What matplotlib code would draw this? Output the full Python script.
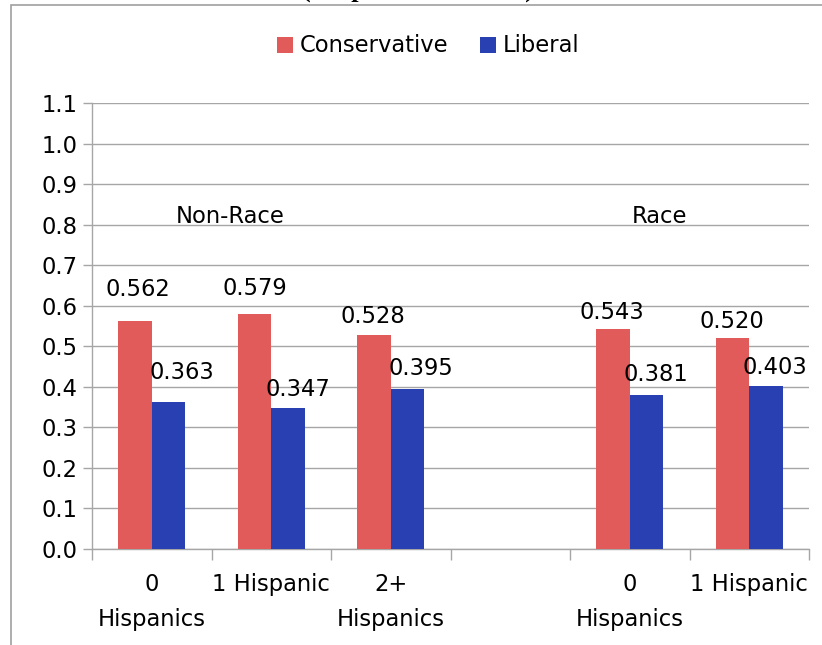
import matplotlib
matplotlib.use("Agg")
import matplotlib.pyplot as plt
from matplotlib.patches import Rectangle
import numpy as np

plt.rcParams['font.family'] = ['DejaVu Sans']

categories = ["0\nHispanics", "1 Hispanic", "2+\nHispanics", "", "0\nHispanics", "1 Hispanic"]
conservative = [0.562, 0.579, 0.528, np.nan, 0.543, 0.520]
liberal = [0.363, 0.347, 0.395, np.nan, 0.381, 0.403]
group_labels = ["Non-Race", "Race"]
yticks = [0.0, 0.1, 0.2, 0.3, 0.4, 0.5, 0.6, 0.7, 0.8, 0.9, 1.0, 1.1]

RED = "#E05B59"
BLUE = "#2940B2"
GRID = "#A6A6A6"
FS = 16.3

# label nudges (pixels) so the value labels sit clear of the bars
cons_off = [(3, 32), (0, 26), (-1, 18), (0, 0), (-1, 16), (-1, 17)]
lib_off = [(13, 29), (10, 19), (13, 20), (0, 0), (9, 20), (9, 18)]

W, H = 822, 645
fig = plt.figure(figsize=(W / 100, H / 100), dpi=100)
ax = fig.add_axes([92 / W, 1 - 549 / H, (809 - 92) / W, (549 - 103) / H])

x = np.arange(len(categories))
bw = 0.28
ax.bar(x - bw / 2, conservative, bw, color=RED, label="Conservative", zorder=3)
ax.bar(x + bw / 2, liberal, bw, color=BLUE, label="Liberal", zorder=3)

for i in range(len(categories)):
    if not np.isnan(conservative[i]):
        ax.annotate(f"{conservative[i]:.3f}", (x[i] - bw / 2, conservative[i]),
                    xytext=cons_off[i], textcoords="offset pixels",
                    ha="center", va="center", fontsize=FS, color="black")
    if not np.isnan(liberal[i]):
        ax.annotate(f"{liberal[i]:.3f}", (x[i] + bw / 2, liberal[i]),
                    xytext=lib_off[i], textcoords="offset pixels",
                    ha="center", va="center", fontsize=FS, color="black")

ax.text(0.66, 0.82, group_labels[0], ha="center", va="center", fontsize=FS)
ax.text(4.25, 0.82, group_labels[1], ha="center", va="center", fontsize=FS)

ax.set_xlim(-0.5, len(categories) - 0.5)
ax.set_ylim(0, 1.1)
ax.set_yticks(yticks)
ax.set_yticklabels([f"{v:.1f}" for v in yticks], fontsize=FS)
ax.yaxis.grid(True, color=GRID, lw=1, zorder=0)
ax.tick_params(axis="y", length=6.5, color=GRID, width=1, pad=4)

ax.set_xticks(x)
ax.set_xticklabels(categories, fontsize=FS, linespacing=1.7, va="top")
ax.set_xticks(np.arange(len(categories) + 1) - 0.5, minor=True)
ax.tick_params(axis="x", which="major", length=0, pad=17)
ax.tick_params(axis="x", which="minor", length=8, color=GRID, width=1)

for s in ["top", "right"]:
    ax.spines[s].set_visible(False)
for s in ["left", "bottom"]:
    ax.spines[s].set_color(GRID)
    ax.spines[s].set_linewidth(1)

fig.legend(loc="center", bbox_to_anchor=(428 / W, 1 - 46 / H), ncol=2,
           frameon=False, fontsize=FS, handlelength=0.7, handleheight=0.7,
           handletextpad=0.3, columnspacing=1.4)

# outer chart frame
fig.patches.append(Rectangle((10.5 / W, -0.5), 2, 1.5 - 5 / H,
                             transform=fig.transFigure, fill=False,
                             edgecolor="#A0A0A0", lw=1.2))

# title line above the frame
fig.text(418 / W, 1 + 3.5 / H, "(Proportion Liberal)", ha="center", va="baseline",
         fontsize=19, fontweight="bold", family="Liberation Serif")

fig.savefig("out.png", dpi=100)
